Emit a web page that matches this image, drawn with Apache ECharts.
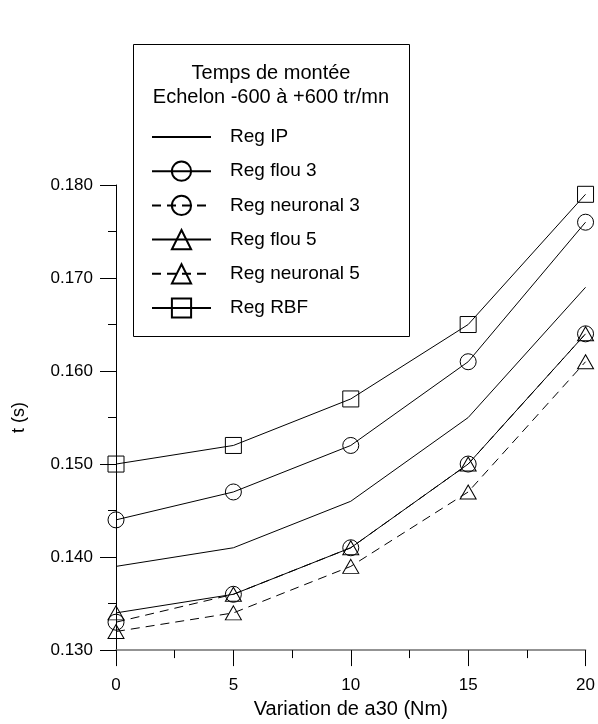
<!DOCTYPE html>
<html>
<head>
<meta charset="utf-8">
<script src="https://cdn.jsdelivr.net/npm/echarts@6/dist/echarts.min.js"></script>
<style>html,body{margin:0;padding:0;background:#fff}#c{width:598px;height:724px}</style>
</head>
<body>
<div id="c"></div>
<script>
var xValues = [0, 5, 10, 15, 20];
var regIP = [0.139, 0.141, 0.146, 0.155, 0.169];
var regFlou3 = [0.144, 0.147, 0.152, 0.161, 0.176];
var regNeuronal3 = [0.133, 0.136, 0.141, 0.150, 0.164];
var regFlou5 = [0.134, 0.136, 0.141, 0.150, 0.164];
var regNeuronal5 = [0.132, 0.134, 0.139, 0.147, 0.161];
var regRBF = [0.150, 0.152, 0.157, 0.165, 0.179];
var seriesNames = ['Reg IP', 'Reg flou 3', 'Reg neuronal 3', 'Reg flou 5', 'Reg neuronal 5', 'Reg RBF'];
var boxTitle = ['Temps de montée', 'Echelon -600 à +600 tr/mn'];
var xTitle = 'Variation de a30 (Nm)';
var yTitle = 't (s)';

var FONT = 'Liberation Sans, Arial, sans-serif';
function pairs(arr) { return arr.map(function (v, i) { return [xValues[i], v]; }); }
function mk(name, arr, symbol, size, dashed) {
  return {
    name: name, type: 'line', data: pairs(arr),
    symbol: symbol, symbolSize: size, showSymbol: symbol !== 'none',
    lineStyle: { color: '#000', width: 1, type: dashed ? [9, 6] : 'solid' },
    itemStyle: { color: 'rgba(0,0,0,0)', borderColor: '#000', borderWidth: 1 },
    emphasis: { disabled: true }, silent: true, z: 3
  };
}
var legendData = seriesNames.map(function (n, i) {
  if (i === 0) {
    return { name: n, itemStyle: { color: 'rgba(0,0,0,0)', borderColor: 'rgba(0,0,0,0)', borderWidth: 0 } };
  }
  return { name: n };
});
var chart = echarts.init(document.getElementById('c'), null, { renderer: 'canvas' });
chart.setOption({
  animation: false,
  backgroundColor: '#fff',
  grid: { left: 116, right: 10, top: 185, bottom: 67, containLabel: false },
  xAxis: {
    type: 'value', min: 0, max: 20, interval: 5,
    name: xTitle, nameLocation: 'middle', nameGap: 43,
    nameTextStyle: { fontFamily: FONT, fontSize: 20, color: '#000' },
    axisLine: { lineStyle: { color: '#707070', width: 1.5 } },
    axisTick: { show: true, inside: false, length: 16, lineStyle: { color: '#000' } },
    minorTick: { show: true, splitNumber: 2, length: 8, lineStyle: { color: '#000' } },
    axisLabel: { margin: 27, fontFamily: FONT, fontSize: 17, color: '#000' },
    splitLine: { show: false }
  },
  yAxis: {
    type: 'value', min: 0.13, max: 0.18, interval: 0.01,
    name: yTitle, nameLocation: 'middle', nameGap: 88,
    nameTextStyle: { fontFamily: FONT, fontSize: 18, color: '#000' },
    axisLine: { show: true, lineStyle: { color: '#000', width: 1 } },
    axisTick: { show: true, inside: false, length: 16, lineStyle: { color: '#000' } },
    minorTick: { show: true, splitNumber: 2, length: 8, lineStyle: { color: '#000' } },
    axisLabel: { margin: 23, fontFamily: FONT, fontSize: 17, color: '#000', formatter: function (v) { return v.toFixed(3); } },
    splitLine: { show: false }
  },
  legend: {
    orient: 'vertical', left: 151, top: 125, padding: 0,
    itemWidth: 59, itemHeight: 24, itemGap: 10.2,
    data: legendData,
    textStyle: { fontFamily: FONT, fontSize: 19, lineHeight: 24, color: '#000', padding: [0, 0, 0, 14] },
    selectedMode: false
  },
  graphic: [
    { type: 'rect', shape: { x: 133.5, y: 44.5, width: 276, height: 292 }, style: { fill: 'none', stroke: '#000', lineWidth: 1 }, z: 1 },
    { type: 'text', x: 271, y: 73, style: { text: boxTitle[0], font: '20px ' + FONT, fill: '#000', align: 'center', verticalAlign: 'middle' }, z: 2 },
    { type: 'text', x: 271, y: 97, style: { text: boxTitle[1], font: '20px ' + FONT, fill: '#000', align: 'center', verticalAlign: 'middle' }, z: 2 }
  ],
  series: [
    mk(seriesNames[0], regIP, 'none', 0, false),
    mk(seriesNames[1], regFlou3, 'circle', 16, false),
    mk(seriesNames[2], regNeuronal3, 'circle', 16, true),
    mk(seriesNames[3], regFlou5, 'triangle', [16, 14], false),
    mk(seriesNames[4], regNeuronal5, 'triangle', [16, 14], true),
    mk(seriesNames[5], regRBF, 'rect', 16, false)
  ]
});
</script>
</body>
</html>
